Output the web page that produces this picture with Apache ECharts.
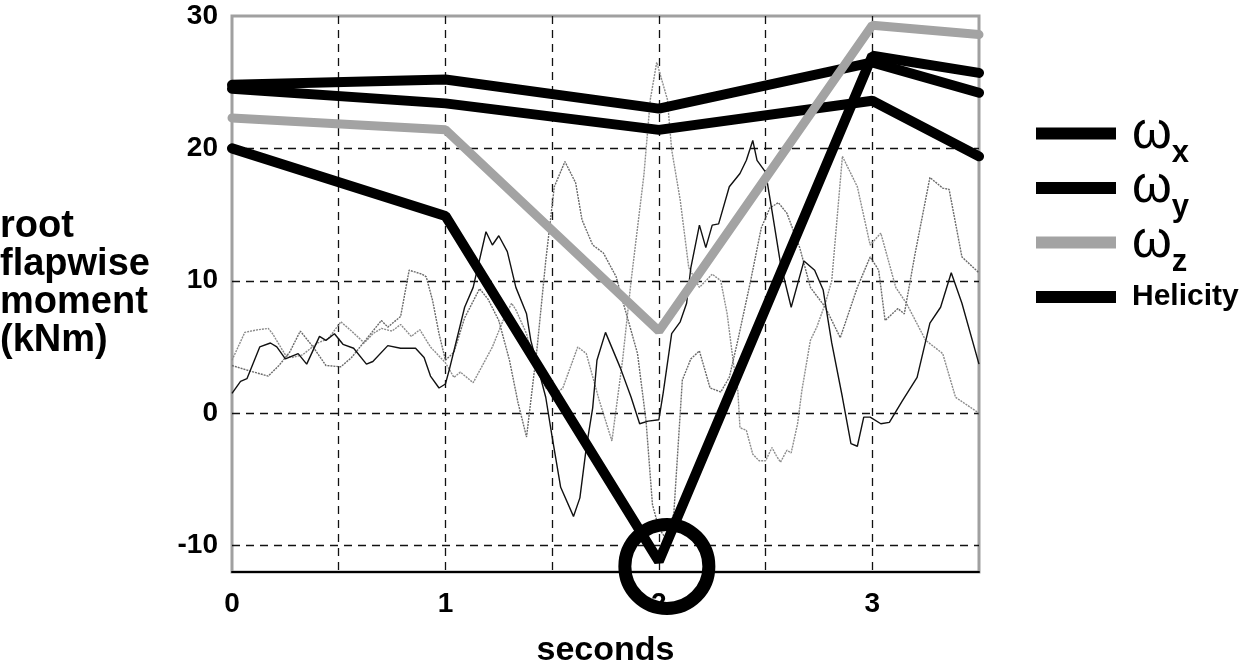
<!DOCTYPE html>
<html>
<head>
<meta charset="utf-8">
<script src="https://cdn.jsdelivr.net/npm/echarts@6/dist/echarts.min.js"></script>
<style>
  html, body { margin: 0; padding: 0; background: #fff; }
  #chart { width: 1255px; height: 664px; }
</style>
</head>
<body>
<div id="chart"></div>
<script>
// ---- data ----
const xTickLabels = ['0', '1', '2', '3'];
const yTickLabels = ['-10', '0', '10', '20', '30'];

// thick series: values at these times (s)
const thickTimes = [0, 1, 2, 3, 3.5];
const omegaX   = [24.8, 25.2, 23.0, 26.5, 24.2];
const omegaY   = [24.5, 23.4, 21.4, 23.6, 19.4];
const omegaZ   = [22.3, 21.4, 6.2, 29.3, 28.6];
const helicity = [20.0, 14.9, -11.2, 27.0, 25.7];

// thin measured traces: [seconds, kNm]
const traceA = [[0,1.5],[0.04,2.4],[0.07,2.6],[0.13,5.0],[0.18,5.3],[0.21,5.0],[0.25,4.1],[0.31,4.5],[0.35,3.7],[0.41,5.8],[0.44,5.5],[0.48,6.0],[0.52,5.2],[0.57,4.9],[0.63,3.7],[0.66,3.9],[0.73,5.1],[0.79,4.9],[0.86,4.9],[0.9,4.2],[0.93,2.8],[0.97,1.9],[1.0,2.2],[1.02,3.4],[1.09,8.0],[1.13,9.5],[1.19,13.7],[1.22,12.7],[1.25,13.4],[1.29,12.2],[1.33,9.5],[1.38,7.5],[1.4,5.5],[1.47,1.2],[1.5,-1.8],[1.54,-5.6],[1.6,-7.8],[1.63,-6.4],[1.66,-2.6],[1.69,0.4],[1.71,4.0],[1.75,6.1],[1.82,3.4],[1.87,1.2],[1.91,-0.8],[1.95,-0.6],[2.0,-0.5],[2.02,1.5],[2.06,6.0],[2.1,6.9],[2.13,8.3],[2.15,11.0],[2.19,14.2],[2.22,12.5],[2.25,14.2],[2.28,14.3],[2.33,17.1],[2.38,18.1],[2.41,19.1],[2.44,20.6],[2.46,19.1],[2.5,18.2],[2.53,15.3],[2.57,11.3],[2.62,8.0],[2.68,11.5],[2.73,10.8],[2.77,9.3],[2.81,5.3],[2.86,1.2],[2.9,-2.3],[2.93,-2.5],[2.96,-0.3],[2.99,-0.3],[3.04,-0.8],[3.08,-0.7],[3.14,0.9],[3.21,2.7],[3.27,6.8],[3.32,8.0],[3.37,10.6],[3.42,8.3],[3.5,3.7]];
const traceB = [[0,3.6],[0.08,3.2],[0.17,2.8],[0.22,3.6],[0.27,4.6],[0.32,6.2],[0.38,5.0],[0.44,3.6],[0.51,3.5],[0.56,4.2],[0.6,5.0],[0.66,6.2],[0.7,7.0],[0.73,6.5],[0.79,7.3],[0.83,10.8],[0.89,10.5],[0.91,10.3],[0.94,8.5],[0.97,6.0],[1.0,4.0],[1.04,4.6],[1.09,7.2],[1.16,9.4],[1.2,8.6],[1.25,7.0],[1.3,4.0],[1.34,0.8],[1.38,-1.8],[1.43,5.0],[1.47,11.5],[1.51,17.1],[1.56,19.0],[1.61,17.4],[1.64,14.6],[1.69,12.7],[1.74,12.1],[1.8,10.3],[1.83,8.5],[1.86,6.8],[1.9,4.5],[1.94,-0.6],[1.97,-6.9],[2.0,-8.7],[2.03,-9.4],[2.07,-7.6],[2.11,2.5],[2.15,4.1],[2.19,4.7],[2.24,1.9],[2.29,1.6],[2.33,2.7],[2.37,5.5],[2.43,10.0],[2.48,14.0],[2.52,15.5],[2.56,15.9],[2.6,15.1],[2.66,12.5],[2.71,9.5],[2.78,8.0],[2.85,5.7],[2.93,9.5],[2.99,11.8],[3.03,10.8],[3.06,7.0],[3.12,7.9],[3.15,7.5],[3.2,12.0],[3.27,17.8],[3.33,17.0],[3.36,16.9],[3.42,11.8],[3.5,10.6]];
const traceC = [[0,4.0],[0.06,6.1],[0.12,6.3],[0.17,6.4],[0.19,6.0],[0.25,4.4],[0.28,4.2],[0.33,4.4],[0.4,5.3],[0.45,5.6],[0.51,6.9],[0.56,6.2],[0.62,5.3],[0.66,6.0],[0.7,6.4],[0.75,6.2],[0.79,6.7],[0.84,5.8],[0.88,6.3],[0.93,5.0],[1.0,3.8],[1.04,2.7],[1.07,3.1],[1.13,2.3],[1.16,3.2],[1.22,5.0],[1.27,7.0],[1.31,8.3],[1.33,7.8],[1.38,6.0],[1.42,3.5],[1.47,1.9],[1.52,1.5],[1.55,1.9],[1.62,5.0],[1.66,4.5],[1.72,1.0],[1.78,-2.1],[1.83,4.0],[1.87,10.0],[1.93,18.0],[1.96,23.7],[1.99,26.5],[2.04,23.7],[2.06,19.9],[2.1,16.1],[2.14,11.0],[2.19,9.5],[2.25,10.5],[2.29,10.0],[2.32,7.5],[2.35,3.7],[2.37,1.7],[2.38,-1.1],[2.41,-1.3],[2.44,-3.1],[2.47,-3.6],[2.5,-3.6],[2.53,-2.6],[2.55,-3.2],[2.57,-3.7],[2.6,-2.8],[2.62,-3.0],[2.65,-0.8],[2.67,1.7],[2.71,5.5],[2.74,6.5],[2.78,8.3],[2.81,10.0],[2.86,19.4],[2.93,17.1],[2.99,12.7],[3.04,13.6],[3.11,9.5],[3.16,8.3],[3.25,5.5],[3.33,4.5],[3.39,1.2],[3.5,0.0]];

// ---- chart ----
const FONT = 'Liberation Sans, Arial, sans-serif';
const pair = (xs, ys) => xs.map((x, i) => [x, ys[i]]);

const chart = echarts.init(document.getElementById('chart'), null, { renderer: 'canvas' });

const thin = (name, data, color, type, width, z) => ({
  name, type: 'line', data, showSymbol: false, silent: true, z,
  lineStyle: { color, width, type }, itemStyle: { color }
});
const thick = (name, ys, color, width, z) => ({
  name, type: 'line', data: pair(thickTimes, ys), showSymbol: false, silent: true, z,
  lineStyle: { color, width, cap: 'round', join: 'bevel' }, itemStyle: { color }
});

const helSeries = thick('Helicity', helicity, '#000', 10, 7);
const minIdx = helicity.indexOf(Math.min(...helicity));
helSeries.markPoint = {
  silent: true,
  symbol: 'circle',
  symbolSize: 84,
  symbolOffset: [8, 5],
  itemStyle: { color: 'rgba(0,0,0,0)', borderColor: '#000', borderWidth: 13 },
  emphasis: { disabled: true },
  label: { show: false },
  data: [{ coord: [thickTimes[minIdx], helicity[minIdx]] }]
};

chart.setOption({
  animation: false,
  backgroundColor: '#fff',
  title: {
    text: 'root\nflapwise\nmoment\n(kNm)',
    left: 0, top: 208, padding: 0,
    textStyle: { fontFamily: FONT, fontSize: 38, fontWeight: 'bold', lineHeight: 38, color: '#000' }
  },
  legend: {
    orient: 'vertical', left: 1036, top: 108, padding: 0,
    itemWidth: 80, itemHeight: 12, itemGap: -6, icon: 'rect',
    selectedMode: false,
    data: ['ωx', 'ωy', 'ωz', 'Helicity'],
    formatter: name => name === 'Helicity' ? '{h|Helicity}{q|ω}' : '{w|ω}{s|' + name.slice(1) + '}',
    textStyle: {
      color: '#000', fontFamily: FONT, padding: [0, 0, 0, 11],
      rich: {
        w: { fontFamily: FONT, fontSize: 51, color: '#000', lineHeight: 44, verticalAlign: 'middle' },
        q: { fontFamily: FONT, fontSize: 51, color: 'rgba(0,0,0,0)', lineHeight: 44, verticalAlign: 'middle' },
        s: { fontFamily: FONT, fontSize: 31, fontWeight: 'bold', color: '#000', lineHeight: 70, verticalAlign: 'bottom' },
        h: { fontFamily: FONT, fontSize: 30, fontWeight: 'bold', color: '#000', lineHeight: 40, verticalAlign: 'middle' }
      }
    }
  },
  grid: {
    left: 232, right: 276, top: 16, bottom: 92,
    outerBoundsMode: 'none', containLabel: false,
    show: true, borderColor: '#a0a0a0', borderWidth: 3, backgroundColor: 'transparent'
  },
  xAxis: {
    type: 'value', min: 0, max: 3.5, interval: 0.5,
    name: 'seconds', nameLocation: 'middle', nameGap: 62,
    nameTextStyle: { fontFamily: FONT, fontSize: 34, fontWeight: 'bold', color: '#000' },
    axisLine: { show: true, onZero: false, lineStyle: { color: '#000', width: 2 } },
    axisTick: { show: false },
    axisLabel: {
      fontFamily: FONT, fontSize: 28, fontWeight: 'bold', color: '#000', margin: 18,
      formatter: v => xTickLabels.includes(String(v)) ? String(v) : ''
    },
    splitLine: { show: true, showMinLine: false, showMaxLine: false, lineStyle: { color: '#111', width: 1.3, type: [8, 6] } }
  },
  yAxis: {
    type: 'value', min: -12, max: 30,
    axisLine: { show: false },
    axisTick: { show: false },
    axisLabel: {
      fontFamily: FONT, fontSize: 28, fontWeight: 'bold', color: '#000', margin: 14,
      formatter: v => yTickLabels.includes(String(v)) ? String(v) : ''
    },
    splitLine: { show: true, showMinLine: false, showMaxLine: false, lineStyle: { color: '#111', width: 1.3, type: [8, 6] } }
  },
  series: [
    thin('trace C', traceC, '#8c8c8c', [2, 1], 1.4, 2),
    thin('trace B', traceB, '#6a6a6a', [2, 1], 1.4, 3),
    thin('trace A', traceA, '#111', 'solid', 1.4, 4),
    thick('ωx', omegaX, '#000', 10, 5),
    thick('ωy', omegaY, '#000', 10, 5),
    thick('ωz', omegaZ, '#a3a3a3', 9, 6),
    helSeries
  ]
});
</script>
</body>
</html>
